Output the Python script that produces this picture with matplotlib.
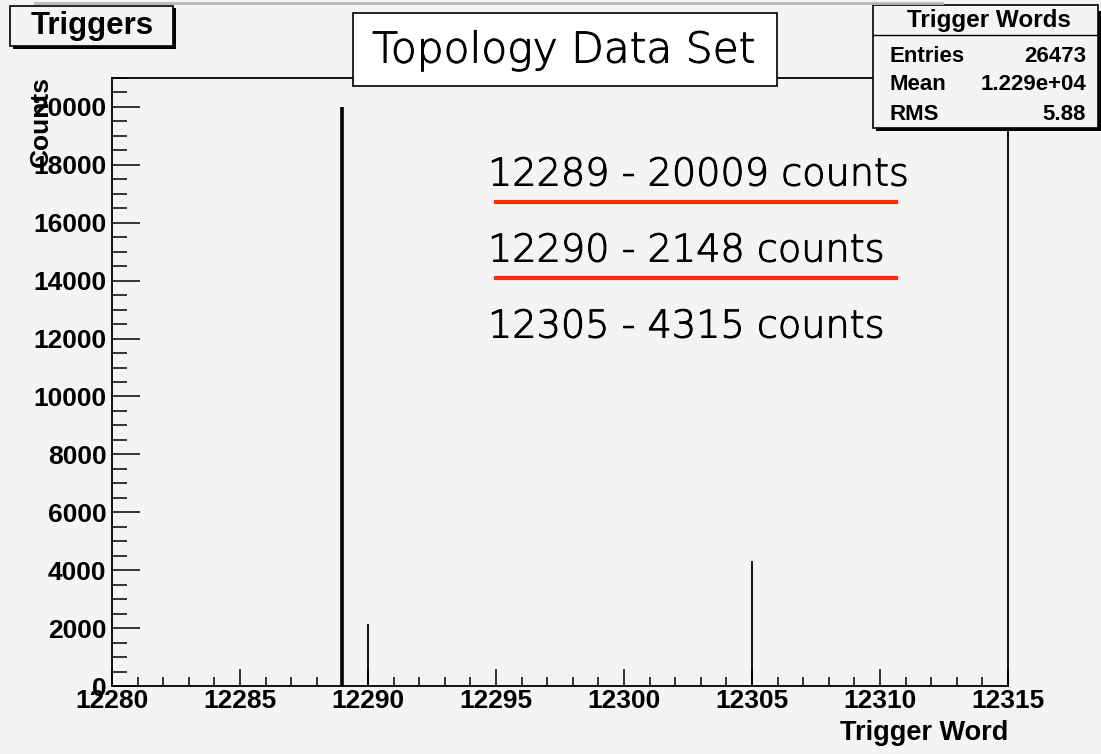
import numpy as np
import matplotlib.pyplot as plt
import matplotlib.patheffects as pe
from matplotlib.lines import Line2D
from matplotlib.patches import Rectangle
from matplotlib.ticker import MultipleLocator

# histogram content
trigger_words = [12289, 12290, 12305]
counts = [20009, 2148, 4315]
line_widths = [2.6, 1.3, 1.3]

stats_labels = ['Entries', 'Mean', 'RMS']
stats_values = ['26473', '1.229e+04', '5.88']

notes = ['12289 - 20009 counts', '12290 - 2148 counts', '12305 - 4315 counts']
underlined = [True, True, False]

bg = '#f4f4f4'
W, H = 1101, 754

fig = plt.figure(figsize=(W / 100, H / 100), dpi=100)
fig.patch.set_facecolor(bg)

def fx(px):
    return px / W

def fy(py):
    return 1 - py / H

ax = fig.add_axes([fx(112), fy(686), fx(1008) - fx(112), fy(78) - fy(686)])
ax.set_facecolor(bg)
ax.vlines(trigger_words, 0, counts, colors='black', linewidths=line_widths)
ax.set_xlim(12280, 12315)
ax.set_ylim(0, 21000)

ax.xaxis.set_major_locator(MultipleLocator(5))
ax.xaxis.set_minor_locator(MultipleLocator(1))
ax.yaxis.set_major_locator(MultipleLocator(2000))
ax.yaxis.set_minor_locator(MultipleLocator(500))
ax.tick_params(axis='x', which='major', direction='in', length=12.5, width=1.1, pad=2)
ax.tick_params(axis='x', which='minor', direction='in', length=6.5, width=1.1)
ax.tick_params(axis='y', which='major', direction='in', length=20, width=1.1, pad=4)
ax.tick_params(axis='y', which='minor', direction='in', length=11, width=1.1)
for lab in ax.get_xticklabels() + ax.get_yticklabels():
    lab.set_family('Liberation Sans')
    lab.set_fontweight('bold')
    lab.set_fontsize(19)
for sp in ax.spines.values():
    sp.set_linewidth(1.3)

fig.text(fx(1008), fy(733), 'Trigger Word', ha='right', va='center',
         family='Liberation Sans', fontweight='bold', fontsize=19.5)
fig.text(fx(41), fy(76), 'Counts', ha='center', va='top', rotation=90,
         family='Liberation Sans', fontweight='bold', fontsize=19)

# thin gray edge along the top
fig.add_artist(Line2D([fx(35), fx(942)], [fy(3), fy(3)], color='#b8b8b8', lw=2))

# "Triggers" title box with shadow
fig.add_artist(Rectangle((fx(13), fy(49)), fx(163), fy(8) - fy(49),
                         facecolor='black', edgecolor='none'))
fig.add_artist(Rectangle((fx(10), fy(46)), fx(163), fy(6) - fy(46),
                         facecolor=bg, edgecolor='black', lw=1.2))
fig.text(fx(92), fy(26), 'Triggers', ha='center', va='center',
         family='Liberation Sans', fontweight='bold', fontsize=22.5)

thicken = [pe.withStroke(linewidth=0.7, foreground='black')]

# "Topology Data Set" label
fig.add_artist(Rectangle((fx(353), fy(86)), fx(777) - fx(353), fy(13) - fy(86),
                         facecolor='white', edgecolor='black', lw=1.2))
fig.text(fx(564), fy(50), 'Topology Data Set', ha='center', va='center',
         family='DejaVu Sans', fontweight='light', fontsize=30.5,
         path_effects=thicken)

# stats box
fig.add_artist(Rectangle((fx(876), fy(131)), fx(1098) - fx(873), fy(8) - fy(128),
                         facecolor='black', edgecolor='none'))
fig.add_artist(Rectangle((fx(873), fy(128)), fx(1098) - fx(873), fy(5) - fy(128),
                         facecolor=bg, edgecolor='black', lw=1.2))
fig.add_artist(Line2D([fx(873), fx(1098)], [fy(35), fy(35)], color='black', lw=1.0))
fig.text(fx(989), fy(20), 'Trigger Words', ha='center', va='center',
         family='Liberation Sans', fontweight='bold', fontsize=17.5)
for i, (lab, val) in enumerate(zip(stats_labels, stats_values)):
    y = fy(56 + i * 29)
    fig.text(fx(890), y, lab, ha='left', va='center',
             family='Liberation Sans', fontweight='bold', fontsize=16)
    fig.text(fx(1086), y, val, ha='right', va='center',
             family='Liberation Sans', fontweight='bold', fontsize=16)

# notes with red underlines
for i, (txt, ul) in enumerate(zip(notes, underlined)):
    yc = 175 + i * 76
    fig.text(fx(488), fy(yc), txt, ha='left', va='center',
             family='DejaVu Sans', fontweight='light', fontsize=27.5,
             path_effects=thicken)
    if ul:
        fig.add_artist(Line2D([fx(496), fx(896)], [fy(yc + 27), fy(yc + 27)],
                              color='#ff2a00', lw=3))

fig.savefig('out.png', dpi=100, facecolor=bg)
